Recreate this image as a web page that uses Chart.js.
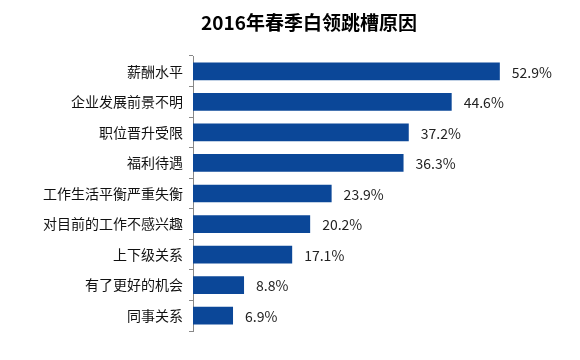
<!DOCTYPE html>
<html>
<head>
<meta charset="utf-8">
<script src="https://cdn.jsdelivr.net/npm/chart.js@4/dist/chart.umd.min.js"></script>
<style>
  html, body { margin: 0; padding: 0; background: #fff; }
  #wrap { width: 580px; height: 360px; position: relative; }
</style>
</head>
<body>
<div id="wrap"><canvas id="chart" width="580" height="360"></canvas></div>
<script>
// 数据
const chartTitle = '2016年春季白领跳槽原因';
const categories = ['薪酬水平', '企业发展前景不明', '职位晋升受限', '福利待遇', '工作生活平衡严重失衡', '对目前的工作不感兴趣', '上下级关系', '有了更好的机会', '同事关系'];
const values = [52.9, 44.6, 37.2, 36.3, 23.9, 20.2, 17.1, 8.8, 6.9];

const FONT = '"Noto Sans CJK SC", "Noto Sans", sans-serif';

// 标题绘制（居中偏右，与原图一致）
const titlePlugin = {
  id: 'titlePlugin',
  afterDraw(chart) {
    const ctx = chart.ctx;
    ctx.save();
    ctx.font = 'bold 19px ' + FONT;
    ctx.fillStyle = '#000';
    ctx.textAlign = 'center';
    ctx.textBaseline = 'middle';
    ctx.fillText(chartTitle, 309, 23);
    ctx.restore();
  }
};

// 柱末端数值标签
const valueLabels = {
  id: 'valueLabels',
  afterDatasetsDraw(chart) {
    const ctx = chart.ctx;
    const meta = chart.getDatasetMeta(0);
    ctx.save();
    ctx.font = '14px ' + FONT;
    ctx.fillStyle = '#222';
    ctx.textAlign = 'left';
    ctx.textBaseline = 'middle';
    meta.data.forEach((bar, i) => {
      ctx.fillText(values[i].toFixed(1) + '%', bar.x + 12, bar.y + 1);
    });
    ctx.restore();
  }
};

new Chart(document.getElementById('chart'), {
  type: 'bar',
  data: {
    labels: categories,
    datasets: [{
      data: values,
      backgroundColor: '#0b4798',
      barPercentage: 0.58,
      categoryPercentage: 1.0
    }]
  },
  options: {
    indexAxis: 'y',
    responsive: false,
    animation: false,
    layout: { padding: { top: 56, bottom: 29, left: 0, right: 39 } },
    plugins: {
      legend: { display: false },
      tooltip: { enabled: false },
      title: { display: false }
    },
    scales: {
      x: {
        display: false,
        min: 0,
        max: 60
      },
      y: {
        afterFit(scale) { scale.width = 193; },
        border: { display: true, color: '#888', width: 1 },
        grid: {
          offset: true,
          drawOnChartArea: false,
          drawTicks: true,
          tickLength: 4,
          color: '#888'
        },
        ticks: {
          color: '#111',
          padding: 6,
          font: { size: 14, family: FONT }
        }
      }
    }
  },
  plugins: [titlePlugin, valueLabels]
});
</script>
</body>
</html>
